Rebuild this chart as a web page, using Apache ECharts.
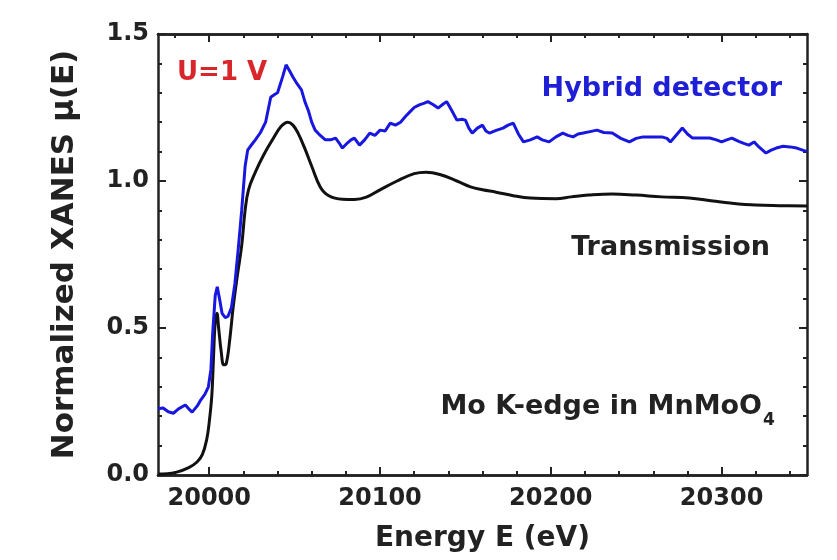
<!DOCTYPE html>
<html>
<head>
<meta charset="utf-8">
<script src="https://cdn.jsdelivr.net/npm/echarts@6/dist/echarts.min.js"></script>
<style>html,body{margin:0;padding:0;background:#fff}#c{width:837px;height:560px}</style>
</head>
<body>
<div id="c"></div>
<script>
var energyT = [19970,19980,19988,19993,19996,19998.5,20000,20001.5,20002.5,20003.5,20004.5,20005.5,20007,20008.5,20010,20012,20014,20016.5,20019,20021,20023,20027,20032,20037,20042,20046,20049,20052,20056,20060,20065,20070,20078,20085,20092,20100,20110,20120,20127,20135,20145,20153,20160,20168,20178,20188,20203,20212,20222,20236,20250,20265,20281,20295,20305,20320,20334,20350];
var muT = [0.003,0.008,0.025,0.045,0.07,0.12,0.18,0.27,0.40,0.52,0.55,0.50,0.42,0.375,0.38,0.46,0.57,0.68,0.78,0.90,0.97,1.03,1.09,1.14,1.185,1.20,1.19,1.163,1.11,1.05,0.98,0.95,0.938,0.937,0.945,0.97,1.00,1.025,1.03,1.022,1.00,0.98,0.97,0.962,0.95,0.942,0.940,0.946,0.952,0.956,0.952,0.946,0.942,0.932,0.925,0.918,0.916,0.915];

var energyH = [19970,19973,19976,19979,19982,19986,19988,19990,19993,19995,19997.5,19999.5,20001,20002,20003.5,20004.7,20006,20007.5,20009.4,20011,20013,20015,20017,20019,20021,20022.5,20025,20027,20030,20033,20036,20038.5,20040,20043,20045,20047,20049,20051.5,20054,20056,20058,20060,20062,20065,20068,20071,20074,20076,20078,20081,20083,20085,20088,20091,20094,20097,20100,20103,20106,20109,20112,20115,20117.5,20120,20123,20126,20128,20131,20134,20137,20139,20142,20145,20148,20150,20152,20154,20157,20160,20162,20164,20168,20172,20175,20178,20181,20184,20188,20192,20195,20199,20203,20207,20210,20213,20216,20219,20223,20227,20231,20236,20241,20246,20250,20254,20260,20265,20268,20270,20274,20277,20280,20283,20288,20293,20297,20300,20303,20306,20310,20313,20316,20319,20322,20326,20329,20332,20336,20340,20344,20347,20350];
var muH = [0.225,0.228,0.215,0.21,0.225,0.238,0.225,0.214,0.235,0.255,0.275,0.30,0.36,0.48,0.61,0.64,0.60,0.55,0.535,0.54,0.57,0.65,0.77,0.90,1.05,1.105,1.125,1.14,1.165,1.20,1.285,1.295,1.30,1.355,1.395,1.375,1.354,1.33,1.31,1.27,1.24,1.20,1.173,1.155,1.14,1.14,1.146,1.13,1.112,1.13,1.14,1.146,1.122,1.14,1.163,1.155,1.173,1.17,1.197,1.19,1.20,1.22,1.235,1.25,1.259,1.265,1.27,1.26,1.248,1.262,1.27,1.24,1.207,1.21,1.207,1.18,1.163,1.18,1.19,1.17,1.163,1.172,1.18,1.19,1.197,1.16,1.133,1.14,1.15,1.14,1.133,1.15,1.163,1.155,1.15,1.16,1.163,1.168,1.173,1.165,1.163,1.145,1.133,1.145,1.15,1.15,1.15,1.145,1.133,1.16,1.18,1.16,1.146,1.146,1.146,1.14,1.133,1.14,1.146,1.135,1.128,1.122,1.133,1.115,1.095,1.105,1.112,1.118,1.116,1.112,1.106,1.10];

var xMajorTicks = [20000,20100,20200,20300];
var xMinorTicks = [19980,20020,20040,20060,20080,20120,20140,20160,20180,20220,20240,20260,20280,20320,20340];
var yTicks = [0,0.5,1.0,1.5];

function pairs(xs, ys){ var o=[]; for(var i=0;i<xs.length;i++) o.push([xs[i],ys[i]]); return o; }

var FONT = 'DejaVu Sans';
var AX = '#222';
function xAx(pos, ticks, len, labels, extra){
  var a = {
    type:'value', position:pos, min:19970, max:20350,
    axisLine:{show:true, lineStyle:{color:AX, width:2.5}},
    axisTick:{show:true, inside:true, length:len, customValues:ticks, lineStyle:{color:AX, width:2}},
    axisLabel:{show:labels, customValues:xMajorTicks, fontFamily:FONT, fontWeight:'bold', fontSize:24, color:'#222', margin:12,
      formatter:function(v){return String(Math.round(v));}},
    splitLine:{show:false}
  };
  for (var k in extra) a[k]=extra[k];
  return a;
}
function yAx(pos, labels, extra){
  var a = {
    type:'value', position:pos, min:0, max:1.5, interval:0.5,
    axisLine:{show:true, lineStyle:{color:AX, width:2.5}},
    axisTick:{show:true, inside:true, length:8, lineStyle:{color:AX, width:2}},
    minorTick:{show:true, splitNumber:5, length:4, lineStyle:{color:AX, width:2}},
    axisLabel:{show:labels, fontFamily:FONT, fontWeight:'bold', fontSize:24, color:'#222', margin:9,
      formatter:function(v){return v.toFixed(1);}},
    splitLine:{show:false}, minorSplitLine:{show:false}
  };
  for (var k in extra) a[k]=extra[k];
  return a;
}

var chart = echarts.init(document.getElementById('c'), null, {renderer:'canvas'});
chart.setOption({
  animation:false,
  backgroundColor:'#fff',
  grid:{left:158, right:30, top:34, bottom:85, containLabel:false},
  xAxis:[
    xAx('bottom', xMajorTicks, 8, true, {name:'Energy E (eV)', nameLocation:'middle', nameGap:50,
      nameTextStyle:{fontFamily:FONT, fontWeight:'bold', fontSize:28, color:'#222'}}),
    xAx('bottom', xMinorTicks, 4, false, {}),
    xAx('top', xMajorTicks, 8, false, {}),
    xAx('top', xMinorTicks, 4, false, {})
  ],
  yAxis:[
    yAx('left', true, {name:'Normalized XANES \u03bc(E)', nameLocation:'middle', nameGap:78, nameRotate:90,
      nameTextStyle:{fontFamily:FONT, fontWeight:'bold', fontSize:31, color:'#222'}}),
    yAx('right', false, {})
  ],
  series:[
    {type:'line', name:'Transmission', xAxisIndex:0, yAxisIndex:0, data:pairs(energyT, muT),
      smooth:0.4, showSymbol:false, symbol:'none', lineStyle:{color:'#111', width:3}, z:3},
    {type:'line', name:'Hybrid detector', xAxisIndex:0, yAxisIndex:0, data:pairs(energyH, muH),
      smooth:false, showSymbol:false, symbol:'none', lineStyle:{color:'#1717e0', width:3}, z:4}
  ],
  graphic:[
    {type:'text', x:177, y:73, style:{text:'U=1 V', fontFamily:FONT, fontWeight:'bold', fontSize:26, fill:'#d9262b', textVerticalAlign:'middle', textAlign:'left'}},
    {type:'text', x:782, y:89, style:{text:'Hybrid detector', fontFamily:FONT, fontWeight:'bold', fontSize:27, fill:'#1f1fd6', textVerticalAlign:'middle', textAlign:'right'}},
    {type:'text', x:770, y:248, style:{text:'Transmission', fontFamily:FONT, fontWeight:'bold', fontSize:27, fill:'#222', textVerticalAlign:'middle', textAlign:'right'}},
    {type:'text', x:762, y:407, style:{text:'Mo K-edge in MnMoO', fontFamily:FONT, fontWeight:'bold', fontSize:27, fill:'#222', textVerticalAlign:'middle', textAlign:'right'}},
    {type:'text', x:763, y:421, style:{text:'4', fontFamily:FONT, fontWeight:'bold', fontSize:17, fill:'#222', textVerticalAlign:'middle', textAlign:'left'}}
  ]
});
</script>
</body>
</html>
